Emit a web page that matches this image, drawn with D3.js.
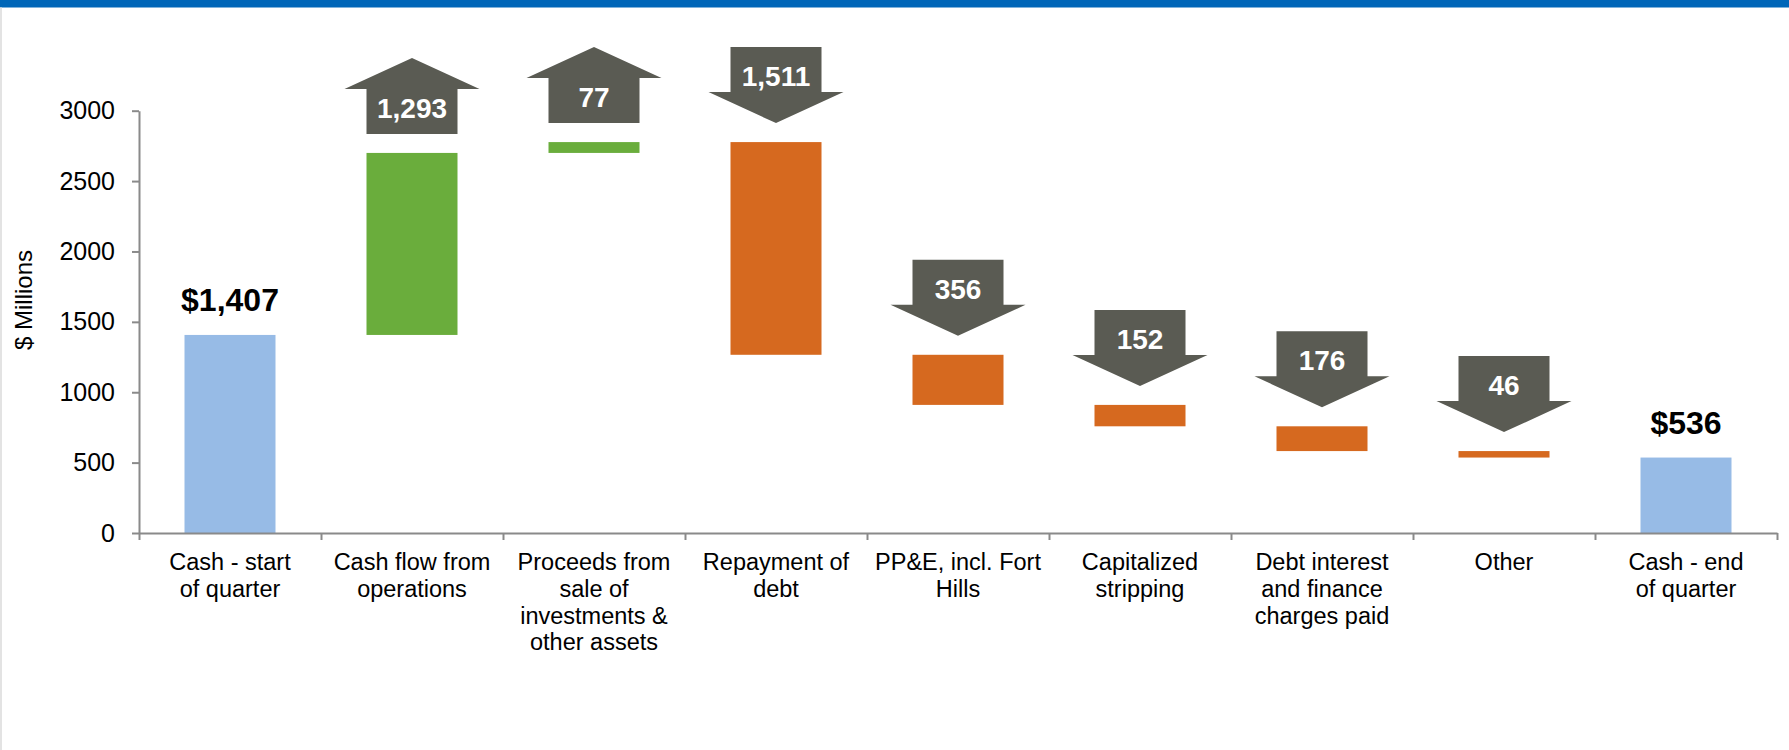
<!DOCTYPE html>
<html>
<head>
<meta charset="utf-8">
<script src="https://cdn.jsdelivr.net/npm/d3@7"></script>
<style>
body { margin: 0; background: #fff; }
svg { display: block; font-family: Arial, "Liberation Sans", sans-serif; }
</style>
</head>
<body>
<svg id="drawing_waterfall"></svg>
<script>
// chart data
const categories = [
    ['Cash - start', 'of quarter'],
    ['Cash flow from', 'operations'],
    ['Proceeds from', 'sale of', 'investments &', 'other assets'],
    ['Repayment of', 'debt'],
    ['PP&E, incl. Fort', 'Hills'],
    ['Capitalized', 'stripping'],
    ['Debt interest', 'and finance', 'charges paid'],
    ['Other'],
    ['Cash - end', 'of quarter']
];
const values = [1407, 1293, 77, -1511, -356, -152, -176, -46, 536];
const kinds = ['total', 'delta', 'delta', 'delta', 'delta', 'delta', 'delta', 'delta', 'total'];
const yTicks = [0, 500, 1000, 1500, 2000, 2500, 3000];
const yTitle = '$ Millions';

class WaterfallChart {

    constructor( config, data ) {
        this.config = {
            parent: config.parent,
            width: config.width || 1789,
            height: config.height || 750,
            margin: config.margin || {top:10, right:10, bottom:10, left:10}
        }
        this.data = data;
    }

    init() {
        let self = this;

        self.svg = d3.select( self.config.parent )
            .attr('width', self.config.width)
            .attr('height', self.config.height);

        // blue header strip and faint left edge
        self.svg.append('rect')
            .attr('x', 0).attr('y', 0)
            .attr('width', self.config.width).attr('height', 7.5)
            .attr('fill', '#0066b8');
        self.svg.append('rect')
            .attr('x', 0).attr('y', 7.5)
            .attr('width', 2).attr('height', self.config.height)
            .attr('fill', '#e3e3e3');

        self.chart = self.svg.append('g')
            .attr('transform', `translate(${self.config.margin.left}, ${self.config.margin.top})`);

        self.inner_width = self.config.width - self.config.margin.left - self.config.margin.right;
        self.inner_height = self.config.height - self.config.margin.top - self.config.margin.bottom;

        self.xscale = d3.scaleBand()
            .domain( d3.range(self.data.length) )
            .range( [0, self.inner_width] )
            .paddingInner(0.5)
            .paddingOuter(0.25);

        self.xbound = d3.scaleLinear()
            .domain( [0, self.data.length] )
            .range( [0, self.inner_width] );

        self.yscale = d3.scaleLinear()
            .domain( [0, 3000] )
            .range( [self.inner_height, 0] );

        self.render();
    }

    render() {
        let self = this;
        const fmt = d3.format(',');
        const gap = 19, head = 31, shaft = 45, over = 22;

        // bars
        self.chart.selectAll('.bar')
            .data(self.data)
            .join('rect')
            .attr('class', 'bar')
            .attr('x', (d, i) => self.xscale(i))
            .attr('width', self.xscale.bandwidth())
            .attr('y', d => self.yscale(Math.max(d.start, d.end)))
            .attr('height', d => Math.abs(self.yscale(d.start) - self.yscale(d.end)))
            .attr('fill', d => d.kind === 'total' ? '#97bbe6' : (d.value > 0 ? '#6aad3c' : '#d6691f'));

        // totals labels
        self.chart.selectAll('.total-label')
            .data(self.data.filter(d => d.kind === 'total'))
            .join('text')
            .attr('class', 'total-label')
            .attr('x', d => self.xscale(d.index) + self.xscale.bandwidth() / 2)
            .attr('y', d => self.yscale(d.end) - 24)
            .attr('text-anchor', 'middle')
            .style('font-size', '32px')
            .style('font-weight', 'bold')
            .attr('fill', '#000')
            .text(d => '$' + fmt(d.value));

        // arrows for the changes
        const deltas = self.data.filter(d => d.kind === 'delta');
        const arrowPath = d => {
            const x0 = self.xscale(d.index);
            const w = self.xscale.bandwidth();
            const cx = x0 + w / 2;
            const topBar = self.yscale(Math.max(d.start, d.end)) - gap;
            if (d.value > 0) {
                const yb = topBar, yh = yb - shaft, ya = yh - head;
                return `M${x0},${yb}L${x0 + w},${yb}L${x0 + w},${yh}L${x0 + w + over},${yh}L${cx},${ya}L${x0 - over},${yh}L${x0},${yh}Z`;
            }
            const ya = topBar, yh = ya - head, yt = yh - shaft;
            return `M${x0},${yt}L${x0 + w},${yt}L${x0 + w},${yh}L${x0 + w + over},${yh}L${cx},${ya}L${x0 - over},${yh}L${x0},${yh}Z`;
        };

        self.chart.selectAll('.arrow')
            .data(deltas)
            .join('path')
            .attr('class', 'arrow')
            .attr('d', arrowPath)
            .attr('fill', '#5a5b53');

        self.chart.selectAll('.arrow-label')
            .data(deltas)
            .join('text')
            .attr('class', 'arrow-label')
            .attr('x', d => self.xscale(d.index) + self.xscale.bandwidth() / 2)
            .attr('y', d => {
                const topBar = self.yscale(Math.max(d.start, d.end)) - gap;
                return d.value > 0 ? topBar - 16 : topBar - (head + shaft) + 39;
            })
            .attr('text-anchor', 'middle')
            .style('font-size', '28px')
            .style('font-weight', 'bold')
            .attr('fill', '#fff')
            .text(d => fmt(Math.abs(d.value)));

        // y axis
        const yaxis = d3.axisLeft(self.yscale)
            .tickValues(yTicks)
            .tickFormat(d3.format('d'))
            .tickSize(7)
            .tickSizeOuter(0)
            .tickPadding(17);
        const yg = self.chart.append('g').call(yaxis);
        yg.selectAll('text').style('font-size', '25px').attr('fill', '#000');

        // x axis with ticks at category boundaries
        const xaxis = d3.axisBottom(self.xbound)
            .tickValues(d3.range(self.data.length + 1))
            .tickFormat('')
            .tickSize(7)
            .tickSizeOuter(0);
        const xg = self.chart.append('g')
            .attr('transform', `translate(0, ${self.inner_height})`)
            .call(xaxis);

        self.chart.selectAll('.domain, .tick line')
            .attr('stroke', '#8a8a8a')
            .attr('stroke-width', 2);

        // category labels
        const cat = self.chart.selectAll('.cat-label')
            .data(self.data)
            .join('text')
            .attr('class', 'cat-label')
            .attr('x', (d, i) => self.xscale(i) + self.xscale.bandwidth() / 2)
            .attr('y', self.inner_height + 37)
            .attr('text-anchor', 'middle')
            .style('font-size', '23.5px')
            .attr('fill', '#000');
        cat.selectAll('tspan')
            .data(d => d.lines)
            .join('tspan')
            .attr('x', function () { return d3.select(this.parentNode).attr('x'); })
            .attr('dy', (l, j) => j === 0 ? 0 : 26.8)
            .text(l => l);

        // y axis title
        self.svg.append('text')
            .attr('transform', `translate(32, 300) rotate(-90)`)
            .attr('text-anchor', 'middle')
            .style('font-size', '24px')
            .attr('fill', '#000')
            .text(yTitle);
    }
}

let running = 0;
const data = values.map((v, i) => {
    let start, end;
    if (kinds[i] === 'total') { start = 0; end = v; running = v; }
    else { start = running; end = running + v; running = end; }
    return { index: i, lines: categories[i], value: v, kind: kinds[i], start: start, end: end };
});

const config = {
    parent: '#drawing_waterfall',
    width: 1789,
    height: 750,
    margin: {top:110.7, right:12, bottom:217, left:139}
};

const waterfall = new WaterfallChart( config, data );
waterfall.init();
</script>
</body>
</html>
